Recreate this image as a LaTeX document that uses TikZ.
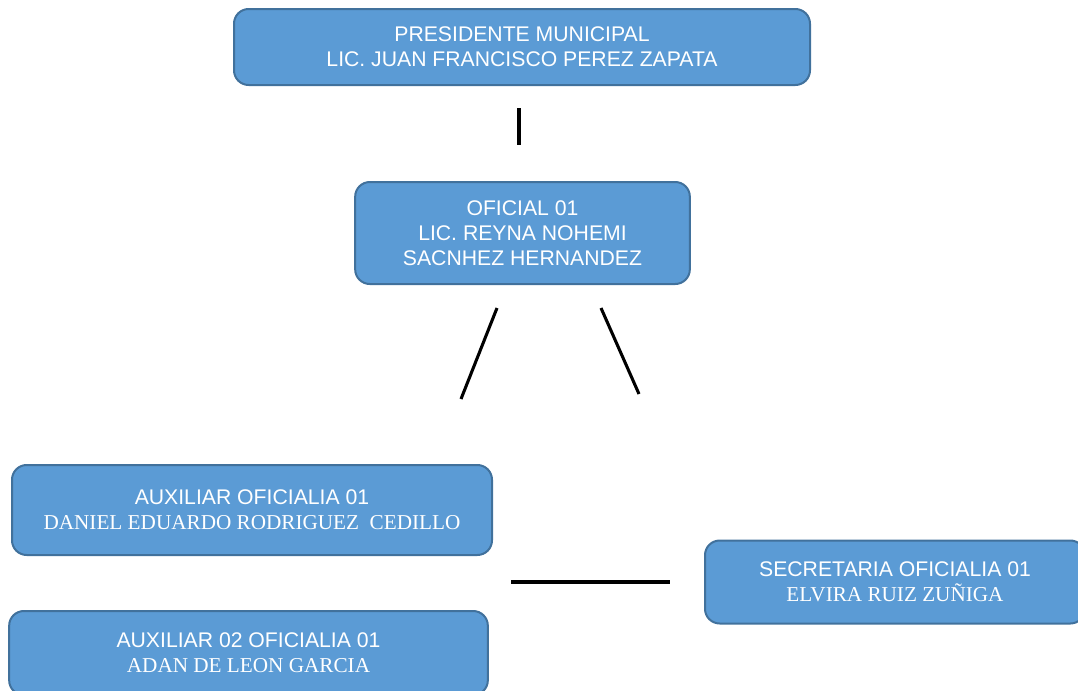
\documentclass[tikz,border=0pt]{standalone}
\usepackage{fontspec}
\setmainfont{Liberation Sans}
\newfontfamily\namefont{Liberation Serif}

\definecolor{boxblue}{HTML}{5B9BD5}
\definecolor{boxline}{HTML}{41719C}

\tikzset{
  cargo/.style={draw=boxline, fill=boxblue, line width=1.5pt, rounded corners=11pt,
    align=center, text=white, inner sep=0pt, font=\fontsize{15.9}{18.7}\selectfont},
  liga/.style={line width=2.3pt}
}

\begin{document}
\begin{tikzpicture}[x=0.75pt,y=-0.75pt]
    \useasboundingbox (0,0) rectangle (1078,690);

    % Boxes
    \node[cargo, minimum width=432pt, minimum height=57pt] (presidente) at (522,47)
        {PRESIDENTE MUNICIPAL\\LIC. JUAN FRANCISCO PEREZ ZAPATA};
    \node[cargo, minimum width=251pt, minimum height=76.5pt] (oficial) at (522.5,233)
        {OFICIAL 01\\LIC. REYNA NOHEMI\\SACNHEZ HERNANDEZ};
    \node[cargo, minimum width=360pt, minimum height=67.5pt] (aux1) at (252,510)
        {AUXILIAR OFICIALIA 01\\{\namefont DANIEL EDUARDO RODRIGUEZ\ \ CEDILLO}};
    \node[cargo, minimum width=359pt, minimum height=63pt] (aux2) at (248.5,653)
        {AUXILIAR 02 OFICIALIA 01\\{\namefont ADAN DE LEON GARCIA}};
    \node[cargo, minimum width=285pt, minimum height=62.25pt] (secretaria) at (895,582)
        {SECRETARIA OFICIALIA 01\\{\namefont ELVIRA RUIZ ZUÑIGA}};

    % Lines
    \coordinate (a1) at (519,108);
    \coordinate (a2) at (519,145);
    \coordinate (b1) at (497,308);
    \coordinate (b2) at (461,399);
    \coordinate (c1) at (601,308);
    \coordinate (c2) at (639,394);
    \coordinate (d1) at (511,582);
    \coordinate (d2) at (670,582);
    \draw[liga] (a1) -- (a2);
    \draw[liga] (b1) -- (b2);
    \draw[liga] (c1) -- (c2);
    \draw[liga] (d1) -- (d2);
\end{tikzpicture}
\end{document}
